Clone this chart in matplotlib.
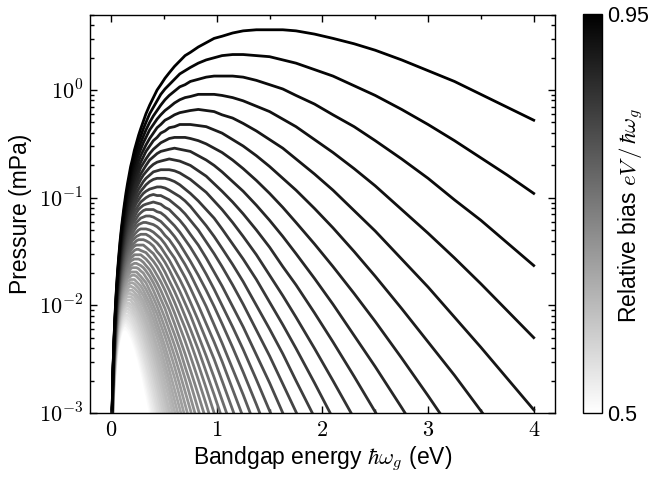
"""Radiation pressure vs. bandgap energy for a family of relative biases."""

import matplotlib
matplotlib.use("Agg")
import matplotlib.pyplot as plt
import numpy as np
from matplotlib.cm import ScalarMappable
from matplotlib.colors import Normalize
from matplotlib.ticker import FuncFormatter, MultipleLocator, LogLocator

# bandgap energies (eV) at which each curve was read
bandgap_ev = [0.01, 0.015, 0.02, 0.025, 0.03, 0.04, 0.05, 0.06, 0.07, 0.085, 0.1, 0.12, 0.14,
              0.17, 0.2, 0.24, 0.28, 0.33, 0.4, 0.47, 0.55, 0.65, 0.75, 0.9, 1.05, 1.25, 1.5,
              1.75, 2.1, 2.5, 3.0, 3.5, 4.0]
# extra readings in between, where the curves bend
mid_bandgap_ev = [0.155, 0.185, 0.22, 0.26, 0.305, 0.365, 0.435, 0.51, 0.6, 0.7, 0.825, 0.975,
                  1.15, 1.375, 1.625, 1.925, 2.3, 2.75, 3.25, 3.75]

# relative bias eV / hbar*omega_g of each curve
bias = [0.50, 0.51, 0.52, 0.53, 0.54, 0.55, 0.56, 0.57, 0.58, 0.59, 0.60, 0.61, 0.62, 0.63,
        0.64, 0.65, 0.66, 0.67, 0.68, 0.69, 0.70, 0.71, 0.72, 0.73, 0.74, 0.75, 0.76, 0.77,
        0.78, 0.79, 0.80, 0.81, 0.82, 0.83, 0.84, 0.85, 0.86, 0.87, 0.88, 0.89, 0.90, 0.91,
        0.92, 0.93, 0.94, 0.95]

# log10 of pressure (mPa), one row per bias, read along bandgap_ev until the curve leaves the axes
log_pressure = [
    [-3.30, -3.11, -2.96, -2.85, -2.76, -2.62, -2.51, -2.43, -2.37, -2.30, -2.26, -2.24, -2.24, -2.28, -2.35, -2.47, -2.63, -2.85, -3.21],
    [-3.29, -3.10, -2.95, -2.84, -2.75, -2.60, -2.50, -2.41, -2.35, -2.29, -2.24, -2.22, -2.22, -2.25, -2.31, -2.43, -2.58, -2.80, -3.14],
    [-3.29, -3.09, -2.94, -2.83, -2.73, -2.59, -2.48, -2.40, -2.34, -2.27, -2.22, -2.19, -2.19, -2.22, -2.28, -2.39, -2.53, -2.74, -3.07],
    [-3.28, -3.08, -2.93, -2.82, -2.72, -2.58, -2.47, -2.38, -2.32, -2.25, -2.20, -2.17, -2.16, -2.19, -2.24, -2.35, -2.48, -2.68, -3.01],
    [-3.27, -3.07, -2.92, -2.81, -2.71, -2.56, -2.45, -2.37, -2.30, -2.23, -2.18, -2.15, -2.14, -2.16, -2.21, -2.31, -2.44, -2.63, -2.94, -3.28],
    [-3.26, -3.06, -2.91, -2.79, -2.70, -2.55, -2.44, -2.35, -2.29, -2.21, -2.16, -2.13, -2.11, -2.13, -2.17, -2.27, -2.39, -2.57, -2.87, -3.20],
    [-3.25, -3.05, -2.90, -2.78, -2.69, -2.54, -2.42, -2.34, -2.27, -2.19, -2.14, -2.10, -2.09, -2.10, -2.14, -2.23, -2.34, -2.52, -2.80, -3.12],
    [-3.24, -3.04, -2.89, -2.77, -2.68, -2.52, -2.41, -2.32, -2.25, -2.18, -2.12, -2.08, -2.06, -2.07, -2.10, -2.19, -2.30, -2.46, -2.74, -3.05],
    [-3.23, -3.03, -2.88, -2.76, -2.66, -2.51, -2.40, -2.31, -2.24, -2.16, -2.10, -2.06, -2.04, -2.04, -2.07, -2.14, -2.25, -2.41, -2.67, -2.97, -3.34],
    [-3.22, -3.02, -2.87, -2.75, -2.65, -2.50, -2.38, -2.29, -2.22, -2.14, -2.08, -2.03, -2.01, -2.01, -2.03, -2.10, -2.20, -2.35, -2.60, -2.89, -3.24],
    [-3.21, -3.01, -2.86, -2.74, -2.64, -2.49, -2.37, -2.28, -2.20, -2.12, -2.06, -2.01, -1.98, -1.98, -2.00, -2.06, -2.15, -2.30, -2.53, -2.81, -3.15],
    [-3.20, -3.00, -2.85, -2.73, -2.63, -2.47, -2.36, -2.26, -2.19, -2.10, -2.04, -1.99, -1.96, -1.95, -1.97, -2.02, -2.11, -2.24, -2.47, -2.73, -3.06],
    [-3.20, -2.99, -2.84, -2.72, -2.62, -2.46, -2.34, -2.25, -2.17, -2.08, -2.02, -1.97, -1.93, -1.92, -1.93, -1.98, -2.06, -2.18, -2.40, -2.65, -2.97, -3.40],
    [-3.19, -2.98, -2.83, -2.71, -2.61, -2.45, -2.33, -2.23, -2.16, -2.07, -2.00, -1.94, -1.91, -1.89, -1.90, -1.94, -2.01, -2.13, -2.33, -2.57, -2.87, -3.29],
    [-3.18, -2.97, -2.82, -2.70, -2.60, -2.44, -2.31, -2.22, -2.14, -2.05, -1.98, -1.92, -1.88, -1.86, -1.86, -1.90, -1.96, -2.07, -2.27, -2.49, -2.78, -3.18],
    [-3.17, -2.96, -2.81, -2.69, -2.59, -2.42, -2.30, -2.20, -2.12, -2.03, -1.96, -1.90, -1.86, -1.83, -1.83, -1.86, -1.92, -2.02, -2.20, -2.41, -2.69, -3.07],
    [-3.16, -2.95, -2.80, -2.68, -2.58, -2.41, -2.29, -2.19, -2.11, -2.01, -1.94, -1.87, -1.83, -1.80, -1.79, -1.82, -1.87, -1.96, -2.13, -2.33, -2.60, -2.96, -3.35],
    [-3.16, -2.95, -2.79, -2.67, -2.56, -2.40, -2.27, -2.17, -2.09, -1.99, -1.92, -1.85, -1.80, -1.77, -1.76, -1.78, -1.82, -1.91, -2.06, -2.26, -2.51, -2.85, -3.23],
    [-3.15, -2.94, -2.78, -2.66, -2.55, -2.39, -2.26, -2.16, -2.07, -1.98, -1.90, -1.83, -1.78, -1.74, -1.72, -1.73, -1.77, -1.85, -2.00, -2.18, -2.41, -2.74, -3.10],
    [-3.14, -2.93, -2.77, -2.65, -2.54, -2.38, -2.25, -2.14, -2.06, -1.96, -1.88, -1.81, -1.75, -1.71, -1.69, -1.69, -1.73, -1.79, -1.93, -2.10, -2.32, -2.63, -2.97, -3.53],
    [-3.13, -2.92, -2.76, -2.64, -2.53, -2.36, -2.23, -2.13, -2.04, -1.94, -1.86, -1.78, -1.73, -1.68, -1.65, -1.65, -1.68, -1.74, -1.86, -2.02, -2.23, -2.52, -2.85, -3.37],
    [-3.12, -2.91, -2.75, -2.63, -2.52, -2.35, -2.22, -2.11, -2.03, -1.92, -1.84, -1.76, -1.70, -1.65, -1.62, -1.61, -1.63, -1.68, -1.79, -1.94, -2.14, -2.41, -2.72, -3.22],
    [-3.12, -2.90, -2.75, -2.62, -2.51, -2.34, -2.21, -2.10, -2.01, -1.90, -1.82, -1.74, -1.67, -1.61, -1.58, -1.57, -1.58, -1.63, -1.73, -1.86, -2.04, -2.31, -2.60, -3.07],
    [-3.11, -2.90, -2.74, -2.61, -2.50, -2.33, -2.19, -2.08, -1.99, -1.88, -1.80, -1.71, -1.65, -1.58, -1.55, -1.53, -1.53, -1.57, -1.66, -1.78, -1.95, -2.20, -2.47, -2.92, -3.41],
    [-3.10, -2.89, -2.73, -2.60, -2.49, -2.32, -2.18, -2.07, -1.98, -1.87, -1.78, -1.69, -1.62, -1.55, -1.51, -1.48, -1.49, -1.51, -1.59, -1.70, -1.86, -2.09, -2.34, -2.77, -3.23],
    [-3.09, -2.88, -2.72, -2.59, -2.48, -2.30, -2.17, -2.05, -1.96, -1.85, -1.76, -1.66, -1.59, -1.52, -1.47, -1.44, -1.44, -1.46, -1.52, -1.62, -1.77, -1.98, -2.22, -2.62, -3.05],
    [-3.09, -2.87, -2.71, -2.58, -2.47, -2.29, -2.15, -2.04, -1.94, -1.83, -1.74, -1.64, -1.57, -1.49, -1.44, -1.40, -1.39, -1.40, -1.45, -1.54, -1.67, -1.87, -2.09, -2.47, -2.88, -3.46],
    [-3.08, -2.86, -2.70, -2.57, -2.46, -2.28, -2.14, -2.02, -1.93, -1.81, -1.72, -1.62, -1.54, -1.46, -1.40, -1.36, -1.34, -1.34, -1.39, -1.46, -1.58, -1.76, -1.97, -2.32, -2.70, -3.25],
    [-3.07, -2.86, -2.69, -2.56, -2.45, -2.27, -2.12, -2.01, -1.91, -1.79, -1.69, -1.59, -1.51, -1.43, -1.37, -1.32, -1.29, -1.29, -1.32, -1.38, -1.49, -1.65, -1.84, -2.17, -2.52, -3.04],
    [-3.07, -2.85, -2.68, -2.55, -2.44, -2.26, -2.11, -1.99, -1.89, -1.77, -1.67, -1.57, -1.49, -1.39, -1.33, -1.27, -1.24, -1.23, -1.25, -1.30, -1.39, -1.54, -1.71, -2.01, -2.35, -2.83, -3.48],
    [-3.06, -2.84, -2.67, -2.54, -2.43, -2.24, -2.10, -1.98, -1.88, -1.75, -1.65, -1.54, -1.46, -1.36, -1.29, -1.23, -1.19, -1.17, -1.18, -1.22, -1.30, -1.43, -1.59, -1.86, -2.17, -2.62, -3.23],
    [-3.05, -2.83, -2.67, -2.53, -2.42, -2.23, -2.08, -1.96, -1.86, -1.73, -1.63, -1.52, -1.43, -1.33, -1.25, -1.19, -1.14, -1.11, -1.11, -1.14, -1.21, -1.32, -1.46, -1.71, -2.00, -2.41, -2.98, -3.58],
    [-3.05, -2.82, -2.66, -2.52, -2.41, -2.22, -2.07, -1.95, -1.84, -1.71, -1.61, -1.49, -1.40, -1.30, -1.22, -1.14, -1.09, -1.06, -1.04, -1.06, -1.11, -1.21, -1.34, -1.56, -1.82, -2.20, -2.72, -3.28],
    [-3.04, -2.82, -2.65, -2.51, -2.39, -2.21, -2.05, -1.93, -1.82, -1.69, -1.58, -1.47, -1.37, -1.26, -1.18, -1.10, -1.04, -1.00, -0.97, -0.98, -1.02, -1.10, -1.21, -1.41, -1.64, -1.99, -2.47, -2.99, -3.75],
    [-3.03, -2.81, -2.64, -2.50, -2.38, -2.19, -2.04, -1.91, -1.81, -1.67, -1.56, -1.44, -1.34, -1.23, -1.14, -1.05, -0.99, -0.94, -0.91, -0.90, -0.93, -0.99, -1.08, -1.26, -1.47, -1.78, -2.22, -2.70, -3.40],
    [-3.02, -2.80, -2.63, -2.49, -2.37, -2.18, -2.02, -1.90, -1.79, -1.65, -1.54, -1.41, -1.31, -1.19, -1.10, -1.01, -0.94, -0.88, -0.83, -0.82, -0.83, -0.88, -0.96, -1.11, -1.29, -1.57, -1.97, -2.40, -3.05],
    [-3.02, -2.79, -2.62, -2.48, -2.36, -2.17, -2.01, -1.88, -1.77, -1.63, -1.51, -1.39, -1.28, -1.16, -1.06, -0.96, -0.89, -0.82, -0.76, -0.74, -0.74, -0.77, -0.83, -0.95, -1.11, -1.36, -1.72, -2.11, -2.70, -3.41],
    [-3.01, -2.78, -2.61, -2.47, -2.35, -2.15, -1.99, -1.86, -1.75, -1.61, -1.49, -1.36, -1.25, -1.12, -1.02, -0.91, -0.83, -0.76, -0.69, -0.66, -0.64, -0.66, -0.70, -0.80, -0.94, -1.15, -1.46, -1.81, -2.34, -2.99, -3.85],
    [-3.00, -2.78, -2.60, -2.46, -2.34, -2.14, -1.98, -1.84, -1.73, -1.58, -1.46, -1.33, -1.22, -1.09, -0.98, -0.87, -0.78, -0.70, -0.62, -0.57, -0.55, -0.55, -0.57, -0.65, -0.76, -0.94, -1.21, -1.52, -1.99, -2.57, -3.34],
    [-3.00, -2.77, -2.59, -2.45, -2.33, -2.13, -1.96, -1.83, -1.71, -1.56, -1.44, -1.30, -1.19, -1.05, -0.94, -0.82, -0.72, -0.64, -0.55, -0.49, -0.45, -0.44, -0.45, -0.50, -0.58, -0.73, -0.96, -1.23, -1.64, -2.15, -2.84, -3.57],
    [-2.99, -2.76, -2.58, -2.44, -2.32, -2.11, -1.95, -1.81, -1.69, -1.54, -1.41, -1.27, -1.15, -1.01, -0.89, -0.77, -0.67, -0.57, -0.47, -0.40, -0.35, -0.32, -0.32, -0.34, -0.40, -0.52, -0.71, -0.93, -1.28, -1.73, -2.34, -2.98, -3.64],
    [-2.98, -2.75, -2.57, -2.43, -2.30, -2.10, -1.93, -1.79, -1.67, -1.51, -1.38, -1.24, -1.12, -0.97, -0.85, -0.72, -0.61, -0.51, -0.40, -0.32, -0.26, -0.21, -0.19, -0.19, -0.23, -0.31, -0.46, -0.64, -0.93, -1.31, -1.83, -2.39, -2.97],
    [-2.98, -2.74, -2.56, -2.42, -2.29, -2.08, -1.91, -1.77, -1.64, -1.49, -1.36, -1.21, -1.08, -0.93, -0.80, -0.66, -0.55, -0.44, -0.32, -0.23, -0.16, -0.09, -0.06, -0.04, -0.05, -0.10, -0.20, -0.34, -0.58, -0.89, -1.33, -1.80, -2.30],
    [-2.97, -2.74, -2.55, -2.41, -2.28, -2.07, -1.89, -1.75, -1.62, -1.46, -1.33, -1.17, -1.04, -0.88, -0.75, -0.61, -0.49, -0.37, -0.24, -0.14, -0.05, 0.03, 0.08, 0.12, 0.13, 0.12, 0.05, -0.05, -0.23, -0.47, -0.82, -1.21, -1.63],
    [-2.96, -2.73, -2.54, -2.39, -2.26, -2.05, -1.87, -1.72, -1.60, -1.43, -1.29, -1.14, -1.00, -0.84, -0.70, -0.55, -0.43, -0.30, -0.16, -0.04, 0.05, 0.15, 0.21, 0.28, 0.32, 0.33, 0.31, 0.25, 0.13, -0.05, -0.32, -0.63, -0.96],
    [-2.96, -2.72, -2.53, -2.38, -2.25, -2.03, -1.85, -1.70, -1.57, -1.40, -1.26, -1.10, -0.96, -0.79, -0.65, -0.49, -0.36, -0.22, -0.07, 0.05, 0.16, 0.27, 0.35, 0.44, 0.50, 0.55, 0.56, 0.55, 0.48, 0.37, 0.18, -0.04, -0.28],
]

# log10 of pressure (mPa) at mid_bandgap_ev, same row order as bias
mid_log_pressure = [
    [-2.25, -2.31, -2.40, -2.55, -2.74, -3.02],
    [-2.23, -2.28, -2.37, -2.50, -2.68, -2.96],
    [-2.20, -2.24, -2.33, -2.46, -2.63, -2.90],
    [-2.17, -2.21, -2.29, -2.41, -2.58, -2.84],
    [-2.14, -2.18, -2.25, -2.37, -2.53, -2.78, -3.11],
    [-2.12, -2.15, -2.22, -2.33, -2.48, -2.72, -3.03],
    [-2.09, -2.11, -2.18, -2.28, -2.43, -2.66, -2.96],
    [-2.06, -2.08, -2.14, -2.24, -2.38, -2.59, -2.89],
    [-2.03, -2.05, -2.10, -2.19, -2.32, -2.53, -2.81, -3.15],
    [-2.00, -2.02, -2.07, -2.15, -2.27, -2.47, -2.74, -3.06],
    [-1.98, -1.99, -2.03, -2.11, -2.22, -2.41, -2.67, -2.98],
    [-1.95, -1.95, -1.99, -2.06, -2.17, -2.35, -2.59, -2.89],
    [-1.92, -1.92, -1.95, -2.02, -2.12, -2.29, -2.52, -2.81, -3.18],
    [-1.89, -1.89, -1.91, -1.97, -2.07, -2.23, -2.45, -2.72, -3.08],
    [-1.87, -1.86, -1.88, -1.93, -2.01, -2.16, -2.38, -2.63, -2.98],
    [-1.84, -1.82, -1.84, -1.88, -1.96, -2.10, -2.30, -2.55, -2.88],
    [-1.81, -1.79, -1.80, -1.84, -1.91, -2.04, -2.23, -2.46, -2.78, -3.15],
    [-1.78, -1.76, -1.76, -1.80, -1.86, -1.98, -2.16, -2.38, -2.67, -3.04],
    [-1.75, -1.73, -1.72, -1.75, -1.81, -1.92, -2.08, -2.29, -2.57, -2.92],
    [-1.73, -1.69, -1.69, -1.71, -1.76, -1.86, -2.01, -2.21, -2.47, -2.80, -3.25],
    [-1.70, -1.66, -1.65, -1.66, -1.70, -1.79, -1.94, -2.12, -2.37, -2.68, -3.11],
    [-1.67, -1.63, -1.61, -1.62, -1.65, -1.73, -1.86, -2.03, -2.27, -2.57, -2.97],
    [-1.64, -1.59, -1.57, -1.57, -1.60, -1.67, -1.79, -1.95, -2.17, -2.45, -2.83],
    [-1.61, -1.56, -1.53, -1.53, -1.55, -1.61, -1.72, -1.86, -2.07, -2.33, -2.69, -3.16],
    [-1.58, -1.53, -1.49, -1.48, -1.50, -1.55, -1.64, -1.78, -1.97, -2.21, -2.55, -3.00],
    [-1.55, -1.49, -1.45, -1.44, -1.44, -1.49, -1.57, -1.69, -1.87, -2.10, -2.41, -2.83],
    [-1.52, -1.46, -1.42, -1.39, -1.39, -1.42, -1.50, -1.60, -1.77, -1.98, -2.28, -2.67, -3.16],
    [-1.50, -1.43, -1.38, -1.35, -1.34, -1.36, -1.42, -1.52, -1.67, -1.86, -2.14, -2.50, -2.97],
    [-1.47, -1.39, -1.34, -1.30, -1.29, -1.30, -1.35, -1.43, -1.56, -1.74, -2.00, -2.34, -2.78],
    [-1.44, -1.36, -1.30, -1.25, -1.23, -1.24, -1.27, -1.35, -1.46, -1.62, -1.86, -2.18, -2.59, -3.15],
    [-1.41, -1.32, -1.26, -1.21, -1.18, -1.17, -1.20, -1.26, -1.36, -1.51, -1.72, -2.01, -2.39, -2.92],
    [-1.38, -1.29, -1.22, -1.16, -1.12, -1.11, -1.13, -1.17, -1.26, -1.39, -1.58, -1.85, -2.20, -2.69, -3.27],
    [-1.34, -1.25, -1.18, -1.11, -1.07, -1.05, -1.05, -1.09, -1.16, -1.27, -1.44, -1.69, -2.01, -2.46, -3.00],
    [-1.31, -1.22, -1.13, -1.07, -1.02, -0.98, -0.98, -1.00, -1.06, -1.15, -1.30, -1.52, -1.81, -2.23, -2.73, -3.37],
    [-1.28, -1.18, -1.09, -1.02, -0.96, -0.92, -0.90, -0.91, -0.96, -1.03, -1.17, -1.36, -1.62, -2.00, -2.45, -3.04],
    [-1.25, -1.14, -1.05, -0.97, -0.91, -0.85, -0.82, -0.82, -0.85, -0.92, -1.03, -1.19, -1.43, -1.76, -2.18, -2.72],
    [-1.22, -1.11, -1.01, -0.92, -0.85, -0.79, -0.75, -0.74, -0.75, -0.80, -0.89, -1.03, -1.23, -1.53, -1.91, -2.40, -3.05],
    [-1.18, -1.07, -0.96, -0.87, -0.79, -0.72, -0.67, -0.65, -0.65, -0.68, -0.75, -0.87, -1.04, -1.30, -1.64, -2.07, -2.66, -3.42],
    [-1.15, -1.03, -0.92, -0.82, -0.74, -0.65, -0.59, -0.56, -0.54, -0.56, -0.61, -0.70, -0.85, -1.07, -1.36, -1.75, -2.28, -2.95],
    [-1.11, -0.99, -0.87, -0.77, -0.68, -0.59, -0.52, -0.47, -0.44, -0.44, -0.47, -0.54, -0.65, -0.84, -1.09, -1.43, -1.89, -2.49, -3.20],
    [-1.08, -0.95, -0.83, -0.72, -0.62, -0.52, -0.44, -0.38, -0.34, -0.32, -0.33, -0.37, -0.46, -0.61, -0.82, -1.10, -1.50, -2.03, -2.65, -3.31],
    [-1.04, -0.91, -0.78, -0.66, -0.56, -0.45, -0.35, -0.28, -0.23, -0.20, -0.18, -0.20, -0.26, -0.38, -0.54, -0.78, -1.12, -1.57, -2.11, -2.68],
    [-1.00, -0.86, -0.73, -0.60, -0.49, -0.37, -0.27, -0.19, -0.12, -0.07, -0.04, -0.04, -0.07, -0.15, -0.27, -0.46, -0.73, -1.11, -1.56, -2.05],
    [-0.96, -0.82, -0.68, -0.55, -0.43, -0.30, -0.19, -0.09, -0.01, 0.05, 0.10, 0.13, 0.13, 0.09, 0.01, -0.13, -0.34, -0.64, -1.02, -1.42],
    [-0.92, -0.77, -0.62, -0.48, -0.36, -0.22, -0.10, 0.01, 0.10, 0.18, 0.25, 0.30, 0.33, 0.32, 0.28, 0.19, 0.04, -0.18, -0.47, -0.79],
    [-0.87, -0.71, -0.56, -0.42, -0.29, -0.14, 0.00, 0.11, 0.22, 0.32, 0.40, 0.48, 0.53, 0.56, 0.56, 0.52, 0.43, 0.28, 0.08, -0.16],
]

plt.rcParams['font.family'] = ['Liberation Sans', 'DejaVu Sans']
plt.rcParams['mathtext.fontset'] = 'cm'

fig = plt.figure(figsize=(6.52, 4.78), dpi=100)
ax = fig.add_axes([0.138, 0.136, 0.713, 0.833])
cax = fig.add_axes([0.894, 0.136, 0.029, 0.835])

norm = Normalize(vmin=bias[0], vmax=bias[-1])
cmap = plt.get_cmap('gray_r')

# lightest first so the high-bias curves sit on top
for r, row, mrow in zip(bias, log_pressure, mid_log_pressure):
    x = np.array(bandgap_ev[:len(row)] + mid_bandgap_ev[:len(mrow)])
    lp = np.array(row + mrow)
    order = np.argsort(x)
    ax.plot(x[order], 10.0 ** lp[order], color=cmap(norm(r)), lw=2.0,
            solid_joinstyle='round')

ax.set_yscale('log')
ax.set_xlim(-0.2, 4.2)
ax.set_ylim(1e-3, 5)
ax.xaxis.set_major_locator(MultipleLocator(1))
ax.xaxis.set_minor_locator(MultipleLocator(0.5))
ax.yaxis.set_major_locator(LogLocator(base=10))
ax.xaxis.set_major_formatter(FuncFormatter(lambda v, p: r'$%d$' % round(v)))
ax.yaxis.set_major_formatter(FuncFormatter(lambda v, p: r'$10^{%d}$' % round(np.log10(v))))
ax.tick_params(which='both', direction='in', top=True, right=True, labelsize=16, width=1)
ax.tick_params(which='major', length=5, pad=5)
ax.tick_params(which='minor', length=3)
for sp in ax.spines.values():
    sp.set_linewidth(1.0)

ax.set_xlabel(r'Bandgap energy $\hbar\omega_g$ (eV)', fontsize=16.5, labelpad=3)
ax.set_ylabel('Pressure (mPa)', fontsize=16.5, labelpad=5)

cb = fig.colorbar(ScalarMappable(norm=norm, cmap=cmap), cax=cax)
cb.set_ticks([bias[0], bias[-1]])
cb.set_ticklabels(['0.5', '0.95'])
cb.ax.tick_params(length=0, labelsize=15.5, pad=3.5)
cb.outline.set_linewidth(1.0)
fig.text(631 / 652, 1 - 216 / 478, r'Relative bias $eV\,/\,\hbar\omega_g$', rotation=90,
         ha='center', va='center', fontsize=16.5)

fig.savefig('out.png', dpi=100)
